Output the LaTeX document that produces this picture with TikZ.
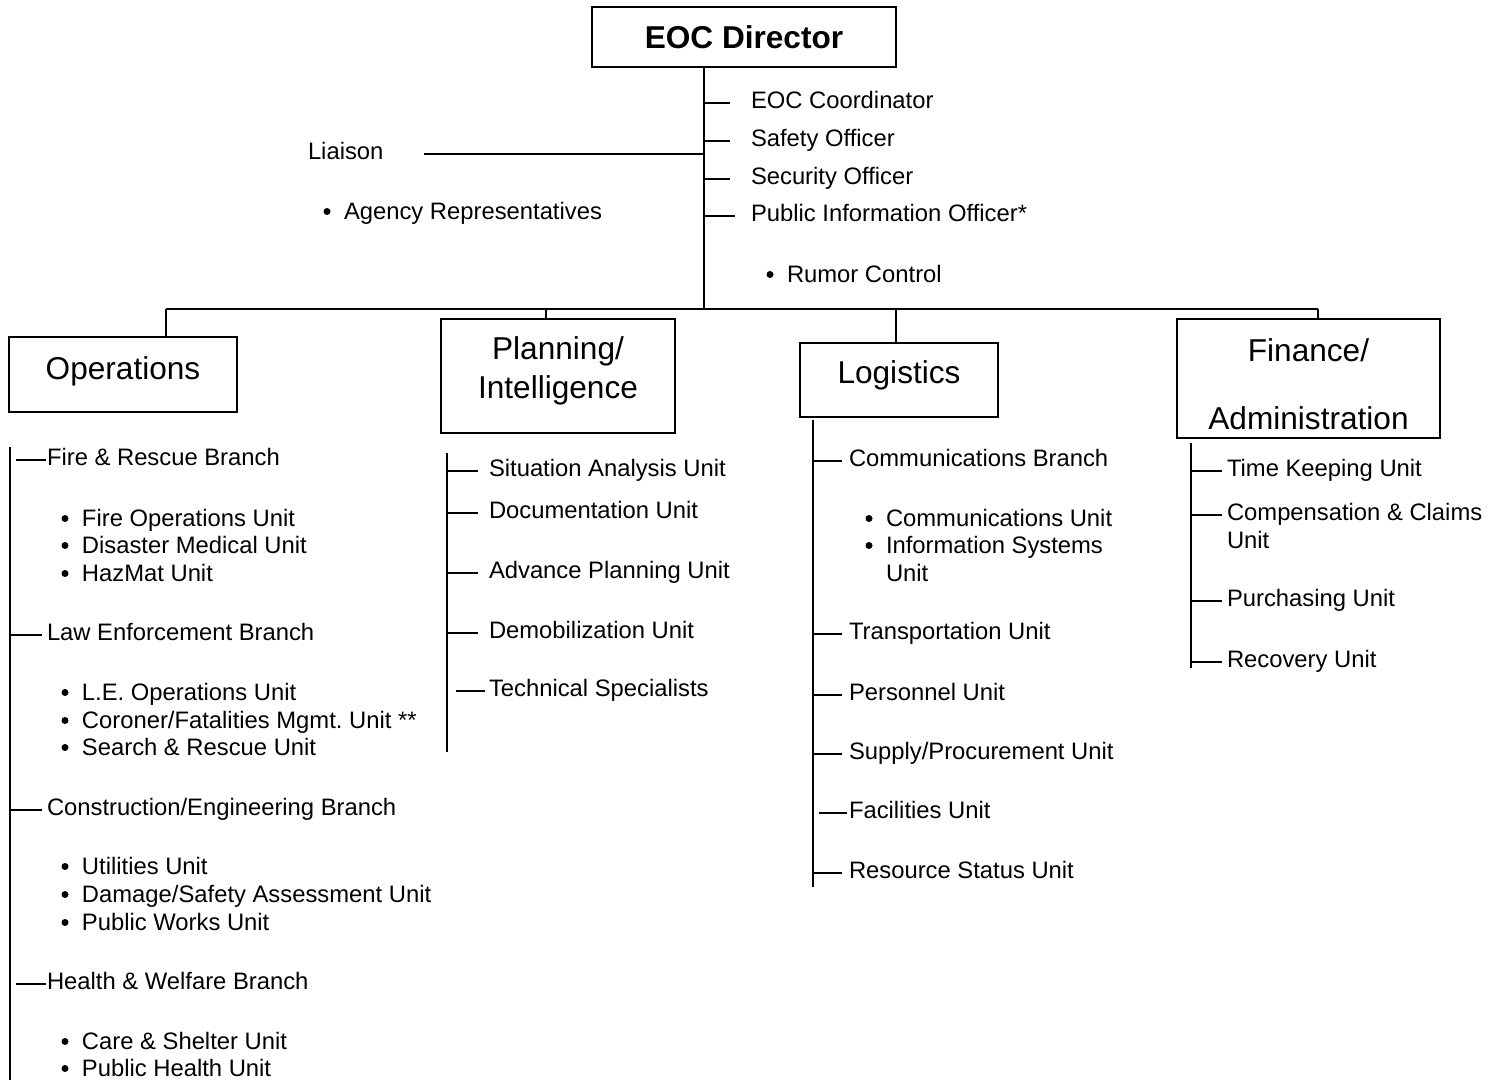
\documentclass[tikz,border=0pt]{standalone}
\usepackage{fontspec}
\setmainfont{Liberation Sans}
\usepackage{tikz}
\usetikzlibrary{calc,positioning}
\frenchspacing
\tikzset{
  UnitBox/.style={
    draw, line width=1pt,
    inner sep=0pt
  },
  BoxText/.style={
    font=\fontsize{15.8}{19.5}\selectfont,
    align=center, inner sep=0pt
  },
  Item/.style={
    anchor=base west, inner sep=0pt,
    font=\fontsize{11.9}{14}\selectfont
  },
  Dot/.style={
    circle, fill, inner sep=0pt,
    minimum size=3.5pt
  }
}
\newcommand{\SpineItem}[5][]{%
  % #1 = tick options (shorten), #2 = spine coordinate
  % #3 = node name, #4 = baseline point, #5 = text
  \node[Item] (#3) at (#4) {#5};
  \draw[#1] (#2 |- #3.mid west) -- (#3.mid west);
}
\newcommand{\BulletItem}[3]{%
  % #1 = node name, #2 = baseline point, #3 = text
  \node[Item] (#1) at (#2) {#3};
  \node[Dot] (#1Dot) at ([xshift=-8pt,yshift=4pt]#1.base west) {};
}
\newcommand{\TwoLines}[2]{%
  % keeps the baseline on the first line
  \begin{tabular}[t]{@{}l@{}}#1\\#2\end{tabular}%
}

\begin{document}
\begin{tikzpicture}[x=0.5pt, y=-0.5pt, line width=1pt]
  \useasboundingbox (0,0) rectangle (1501,1080);

  % director and the four sections
  \node[UnitBox, font=\fontsize{15.8}{19}\selectfont\bfseries,
        minimum width=152pt, minimum height=30pt] (director) at (744,37) {EOC Director};
  \node[UnitBox, minimum width=114pt, minimum height=37.5pt,
        label={[BoxText, yshift=1.7pt]center:Operations}] (ops) at (123,374.5) {};
  \node[UnitBox, minimum width=117pt, minimum height=57pt,
        label={[BoxText, yshift=2.7pt]center:{Planning/\\Intelligence}}] (plan) at (558,376) {};
  \node[UnitBox, minimum width=99pt, minimum height=37pt,
        label={[BoxText, yshift=2.45pt]center:Logistics}] (logi) at (899,380) {};
  \node[UnitBox, minimum width=131.5pt, minimum height=59.5pt,
        label={[BoxText, yshift=-2.7pt]center:{Finance/\\[14.5pt]Administration}}] (fin) at (1308.5,378.5) {};

  % bus
  \coordinate (busOps) at (166,309);
  \coordinate (busPlan) at (546,309);
  \coordinate (busDir) at (704,309);
  \coordinate (busLog) at (896,309);
  \coordinate (busFin) at (1318,309);
  \draw (busOps) -- (busFin);
  \draw (director.south -| busDir) -- (busDir);
  \draw (busOps) -- (busOps |- ops.north);
  \draw (busPlan) -- (busPlan |- plan.north);
  \draw (busLog) -- (busLog |- logi.north);
  \draw (busFin) -- (busFin |- fin.north);

  % command staff
  \SpineItem[shorten >=10pt]{busDir}{coordinator}{750,108.5}{EOC Coordinator}
  \SpineItem[shorten >=10pt]{busDir}{safety}{750,146.5}{Safety Officer}
  \SpineItem[shorten >=10pt]{busDir}{security}{750,184.5}{Security Officer}
  \SpineItem[shorten >=7.5pt]{busDir}{pio}{750,221.5}{Public Information Officer*}
  \BulletItem{rumor}{786,282.5}{Rumor Control}
  \node[Item] (liaison) at (307,159.5) {Liaison};
  \draw ([xshift=20pt]liaison.mid east) -- (busDir |- liaison.mid east);
  \BulletItem{agency}{343,219.5}{Agency Representatives}

  % operations
  \coordinate (opsTop) at (10,447);
  \coordinate (opsEnd) at (10,1080);
  \draw (opsTop) -- (opsEnd);
  \SpineItem[shorten <=3pt]{opsTop}{fireBr}{46,465.5}{Fire \& Rescue Branch}
  \BulletItem{fireOps}{81,526.5}{Fire Operations Unit}
  \BulletItem{medical}{81,553.5}{Disaster Medical Unit}
  \BulletItem{hazmat}{81,581.5}{HazMat Unit}
  \SpineItem[shorten >=2pt]{opsTop}{lawBr}{46,640.5}{Law Enforcement Branch}
  \BulletItem{leOps}{81,700.5}{L.E. Operations Unit}
  \BulletItem{coroner}{81,728.5}{Coroner/Fatalities Mgmt. Unit **}
  \BulletItem{search}{81,755.5}{Search \& Rescue Unit}
  \SpineItem[shorten >=2pt]{opsTop}{constrBr}{46,815.5}{Construction/Engineering Branch}
  \BulletItem{utilities}{81,874.5}{Utilities Unit}
  \BulletItem{damage}{81,902.5}{Damage/Safety Assessment Unit}
  \BulletItem{works}{81,930.5}{Public Works Unit}
  \SpineItem[shorten <=3pt]{opsTop}{healthBr}{46,989.5}{Health \& Welfare Branch}
  \BulletItem{shelter}{81,1049.5}{Care \& Shelter Unit}
  \BulletItem{pubHealth}{81,1076.5}{Public Health Unit}

  % planning / intelligence
  \coordinate (planTop) at (447,453);
  \coordinate (planEnd) at (447,752);
  \draw (planTop) -- (planEnd);
  \SpineItem[shorten >=5pt]{planTop}{situation}{488,476.5}{Situation Analysis Unit}
  \SpineItem[shorten >=5pt]{planTop}{documents}{488,518.5}{Documentation Unit}
  \SpineItem[shorten >=5pt]{planTop}{advance}{488,578.5}{Advance Planning Unit}
  \SpineItem[shorten >=5pt]{planTop}{demob}{488,638.5}{Demobilization Unit}
  \SpineItem[shorten <=4.5pt, shorten >=1.5pt]{planTop}{technical}{488,696.5}{Technical Specialists}

  % logistics
  \coordinate (logTop) at (813,420);
  \coordinate (logEnd) at (813,887);
  \draw (logTop) -- (logEnd);
  \SpineItem[shorten >=3pt]{logTop}{commBr}{848,466.5}{Communications Branch}
  \BulletItem{commUnit}{885,526.5}{Communications Unit}
  \BulletItem{infoSys}{885,553.5}{\TwoLines{Information Systems}{Unit}}
  \SpineItem[shorten >=3pt]{logTop}{transport}{848,639.5}{Transportation Unit}
  \SpineItem[shorten >=3pt]{logTop}{personnel}{848,700.5}{Personnel Unit}
  \SpineItem[shorten >=3pt]{logTop}{supply}{848,759.5}{Supply/Procurement Unit}
  \SpineItem[shorten <=3pt, shorten >=0.5pt]{logTop}{facilities}{848,818.5}{Facilities Unit}
  \SpineItem[shorten >=3pt]{logTop}{resource}{848,878.5}{Resource Status Unit}

  % finance / administration
  \coordinate (finTop) at (1191,443);
  \coordinate (finEnd) at (1191,668);
  \draw (finTop) -- (finEnd);
  \SpineItem[shorten >=2pt]{finTop}{timeKeep}{1226,476.5}{Time Keeping Unit}
  \SpineItem[shorten >=2pt]{finTop}{compClaims}{1226,520.5}{\TwoLines{Compensation \& Claims}{Unit}}
  \SpineItem[shorten >=2pt]{finTop}{purchasing}{1226,606.5}{Purchasing Unit}
  \SpineItem[shorten >=2pt]{finTop}{recovery}{1226,667.5}{Recovery Unit}
\end{tikzpicture}
\end{document}
